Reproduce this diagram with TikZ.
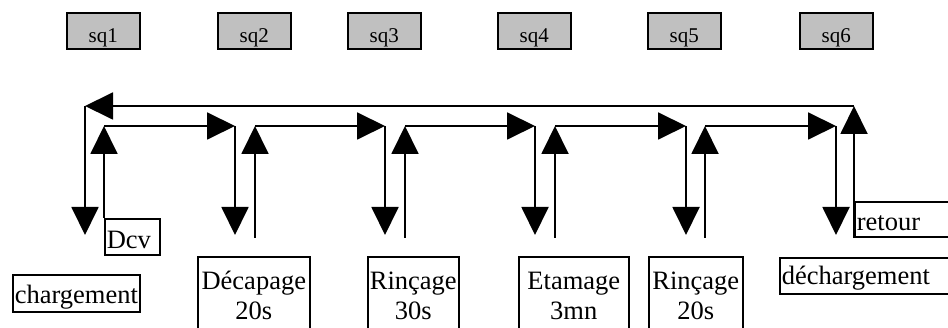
\documentclass[tikz,border=0pt]{standalone}
\usepackage{fontspec}
\setmainfont{Liberation Serif}
\usetikzlibrary{arrows.meta}
\definecolor{boxgray}{RGB}{192,192,192}
\begin{document}
\begin{tikzpicture}[x=1pt,y=-1pt,
  conn/.style={line width=1.9pt, -{Triangle[length=28pt,width=27pt]}},
  sqbox/.style={draw, line width=1.6pt, fill=boxgray, minimum width=73pt, minimum height=36pt, anchor=north west, inner sep=0pt, font=\fontsize{21pt}{24pt}\selectfont},
  stepbox/.style={draw, line width=1.6pt, anchor=north west, inner xsep=1pt, inner ysep=0pt, font=\fontsize{26.5pt}{30pt}\selectfont, align=center, minimum height=78pt},
  onebox/.style={draw, line width=1.6pt, anchor=north west, inner xsep=2pt, inner ysep=0pt, font=\fontsize{26.5pt}{30pt}\selectfont, align=left, text depth=0pt},
]
\useasboundingbox (0,0) rectangle (948,328);
\clip (0,0) rectangle (948,328);

% top boxes
\node[sqbox] (sq1) at (66,12)  {\raisebox{-12pt}[0pt][0pt]{sq1}\hspace{6pt}};
\node[sqbox] (sq2) at (217,12) {\raisebox{-12pt}[0pt][0pt]{sq2}\hspace{4pt}};
\node[sqbox] (sq3) at (347,12) {\raisebox{-12pt}[0pt][0pt]{sq3}\hspace{6pt}};
\node[sqbox] (sq4) at (497,12) {\raisebox{-12pt}[0pt][0pt]{sq4}\hspace{6pt}};
\node[sqbox] (sq5) at (647,12) {\raisebox{-12pt}[0pt][0pt]{sq5}\hspace{6pt}};
\node[sqbox] (sq6) at (799,12) {\raisebox{-12pt}[0pt][0pt]{sq6}\hspace{6pt}};

% bottom boxes
\node[onebox, text width=123pt, minimum height=37pt, text height=21pt] (charg) at (12,274) {chargement};
\node[onebox, text width=51pt, minimum height=36pt, text height=24pt] (dcv) at (104,218) {Dcv};
\node[stepbox, text width=110pt] (decap) at (197,256) {Décapage\\20s};
\node[stepbox, text width=89pt] (rinc1) at (367,256) {Rinçage\\30s};
\node[stepbox, text width=108pt] (etam) at (518,256) {Etamage\\3mn};
\node[stepbox, text width=92pt] (rinc2) at (648,256) {Rinçage\\20s};
\node[onebox, text width=165pt, minimum height=36pt, text height=18pt] (dech) at (779,257) {déchargement};
\node[onebox, text width=90pt, minimum height=35pt, text height=23pt] (retour) at (854,201) {retour};

% station 1 -> 2
\coordinate (ut1) at (104,126);
\coordinate (dt2) at (235,126);
\coordinate (db2) at (235,235);
\draw[conn] (dcv.north west) -- (ut1);
\draw[conn] (ut1) -- (dt2);
\draw[conn] (dt2) -- (db2);

% stations 2..5
\foreach \u/\d [count=\i from 2] in {255/385,405/535,555/686,705/836}{
  \coordinate (ub\i) at (\u,238);
  \coordinate (ut\i) at (\u,126);
  \coordinate (dt\i) at (\d,126);
  \coordinate (db\i) at (\d,235);
  \draw[conn] (ub\i) -- (ut\i);
  \draw[conn] (ut\i) -- (dt\i);
  \draw[conn] (dt\i) -- (db\i);
}

% return loop
\coordinate (rt) at (854,106);
\coordinate (lt) at (85,106);
\coordinate (lb) at (85,235);
\draw[conn] (retour.south west) -- (rt);
\draw[conn] (rt) -- (lt);
\draw[conn] (lt) -- (lb);
\end{tikzpicture}
\end{document}
